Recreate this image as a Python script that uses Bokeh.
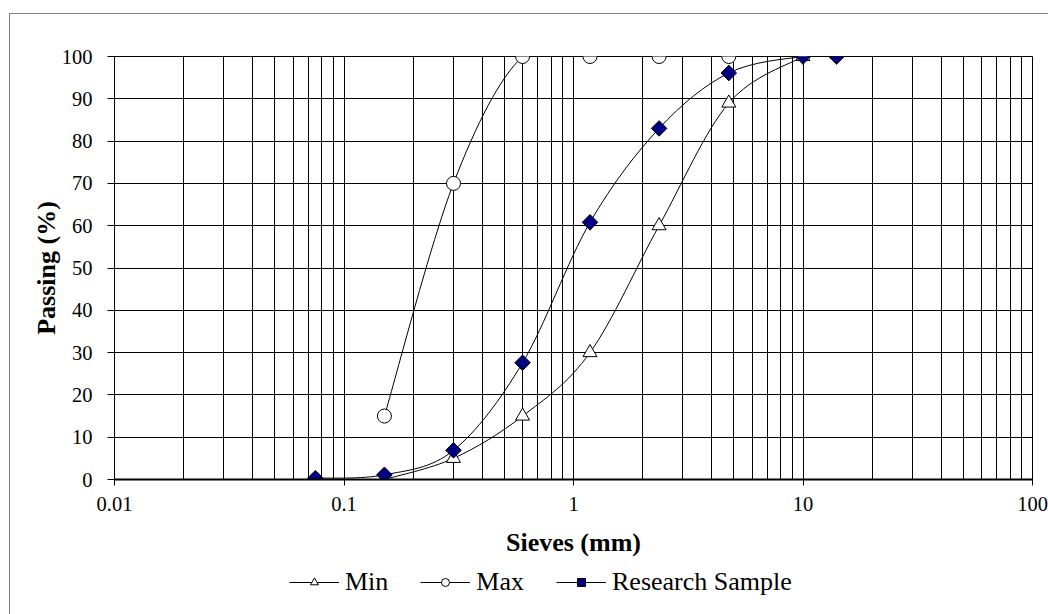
import numpy as np
from bokeh.plotting import figure
from bokeh.layouts import column
from bokeh.models import (Range1d, FixedTicker, CustomJSTickFormatter, Legend,
                          LegendItem, ColumnDataSource)
from bokeh.embed import file_html
from bokeh.resources import INLINE

# ---------------- data ----------------
sieves_min = [0.15, 0.3, 0.6, 1.18, 2.36, 4.75, 10]
passing_min = [0, 5, 15, 30, 60, 89, 100]

sieves_max = [0.15, 0.3, 0.6, 1.18, 2.36, 4.75]
passing_max = [15, 70, 100, 100, 100, 100]

sieves_sample = [0.075, 0.15, 0.3, 0.6, 1.18, 2.36, 4.75, 10, 14]
passing_sample = [0.3, 1.1, 6.9, 27.6, 60.8, 83.0, 96.1, 100, 100]

series_names = ["Min", "Max", "Research Sample"]

x_ticks = [0.01, 0.1, 1, 10, 100]
x_minor = [m * d for d in [0.01, 0.1, 1, 10] for m in [2, 3, 4, 5, 6, 7, 8, 9]]
y_ticks = [0, 10, 20, 30, 40, 50, 60, 70, 80, 90, 100]

FONT = "Liberation Serif"
PX_DEC = 229.3   # approx. screen pixels per decade (for smoothing aspect)
PX_UNIT = 4.23   # approx. screen pixels per % unit

STYLE = {
    "Min": dict(marker="triangle", size=14, fill_color="white", line_color="black", line_width=1),
    "Max": dict(marker="circle", size=14, fill_color="white", line_color="black", line_width=1),
    "Research Sample": dict(marker="square", angle=np.pi / 4, size=11,
                            fill_color="#000080", line_color="black", line_width=1),
}


def smooth_segments(xs, ys):
    """Excel-like smoothed line: cubic Bezier control points (Catmull-Rom, 1/6)."""
    u = np.log10(np.asarray(xs, float)) * PX_DEC
    v = np.asarray(ys, float) * PX_UNIT
    up = np.concatenate([[u[0]], u, [u[-1]]])
    vp = np.concatenate([[v[0]], v, [v[-1]]])
    i = np.arange(len(u) - 1)
    cu0 = up[i + 1] + (up[i + 2] - up[i]) / 6
    cv0 = vp[i + 1] + (vp[i + 2] - vp[i]) / 6
    cu1 = up[i + 2] - (up[i + 3] - up[i + 1]) / 6
    cv1 = vp[i + 2] - (vp[i + 3] - vp[i + 1]) / 6
    return ColumnDataSource(dict(
        x0=10 ** (u[:-1] / PX_DEC), y0=v[:-1] / PX_UNIT,
        x1=10 ** (u[1:] / PX_DEC), y1=v[1:] / PX_UNIT,
        cx0=10 ** (cu0 / PX_DEC), cy0=cv0 / PX_UNIT,
        cx1=10 ** (cu1 / PX_DEC), cy1=cv1 / PX_UNIT,
    ))


data = {
    "Min": (sieves_min, passing_min),
    "Max": (sieves_max, passing_max),
    "Research Sample": (sieves_sample, passing_sample),
}

# ---------------- main chart ----------------
p = figure(width=1038, height=552, x_axis_type="log",
           x_range=Range1d(0.01, 100), y_range=Range1d(0, 100),
           output_backend="svg", toolbar_location=None,
           min_border_left=104, min_border_right=16,
           min_border_top=42, min_border_bottom=87)

p.background_fill_color = "white"
p.border_fill_color = "white"
p.outline_line_color = "black"
p.outline_line_width = 1

p.xaxis.ticker = FixedTicker(ticks=x_ticks, minor_ticks=x_minor)
p.yaxis.ticker = FixedTicker(ticks=y_ticks)
p.xgrid.grid_line_color = "black"
p.xgrid.minor_grid_line_color = "black"
p.ygrid.grid_line_color = "black"
p.xgrid.grid_line_width = 1
p.ygrid.grid_line_width = 1

p.xaxis.formatter = CustomJSTickFormatter(code="return tick.toString();")
for ax in (p.xaxis, p.yaxis):
    ax.axis_line_color = "black"
    ax.major_tick_line_color = "black"
    ax.major_tick_in = 0
    ax.minor_tick_line_color = None
    ax.major_label_text_font = FONT
    ax.major_label_text_font_size = "20.5px"
    ax.major_label_text_color = "black"
    ax.axis_label_text_font = FONT
    ax.axis_label_text_font_size = "26px"
    ax.axis_label_text_font_style = "bold"
    ax.axis_label_text_color = "black"

p.xaxis.axis_line_width = 2
p.xaxis.major_tick_out = 6
p.xaxis.major_label_standoff = 11
p.xaxis.axis_label = "Sieves (mm)"
p.xaxis.axis_label_standoff = 14

p.yaxis.major_tick_out = 7
p.yaxis.major_label_standoff = 15
p.yaxis.axis_label = "Passing (%)"
p.yaxis.axis_label_standoff = -2

for name in series_names:
    xs, ys = data[name]
    p.bezier(x0="x0", y0="y0", x1="x1", y1="y1", cx0="cx0", cy0="cy0",
             cx1="cx1", cy1="cy1", source=smooth_segments(xs, ys),
             line_color="black", line_width=1)
for name in series_names:
    xs, ys = data[name]
    p.scatter(xs, ys, **STYLE[name])

# ---------------- legend strip (below the chart) ----------------
# The legend needs renderers in its own plot; the same series are drawn there,
# but the strip's ranges keep them out of view so only the legend shows.
leg = figure(width=1038, height=48, output_backend="svg", toolbar_location=None,
             x_axis_location=None, y_axis_location=None, min_border=0,
             x_range=Range1d(-2, -1), y_range=Range1d(-2, -1))
leg.grid.visible = False
leg.outline_line_color = None
leg.background_fill_color = "white"
leg.border_fill_color = "white"

items = []
for name in series_names:
    xs, ys = data[name]
    ln = leg.line(x=xs, y=ys, line_color="black", line_width=1)
    mk = leg.scatter(x=xs, y=ys, **STYLE[name])
    items.append(LegendItem(label=name, renderers=[ln, mk]))

legend = Legend(items=items, orientation="horizontal", location=(175, 17))
legend.label_text_font = FONT
legend.label_text_font_size = "26px"
legend.label_text_color = "black"
legend.glyph_width = 50
legend.glyph_height = 20
legend.label_standoff = 6
legend.spacing = 32
legend.padding = 0
legend.margin = 0
legend.border_line_color = None
legend.background_fill_alpha = 0
leg.add_layout(legend, "center")

# outer chart border (only its left and top edges fall inside the window)
page = column(p, leg, spacing=0,
              styles={"margin-left": "9px", "margin-top": "13px",
                      "border-left": "1px solid #808080",
                      "border-top": "1px solid #808080"})

open("out.html", "w").write(file_html(page, INLINE))
